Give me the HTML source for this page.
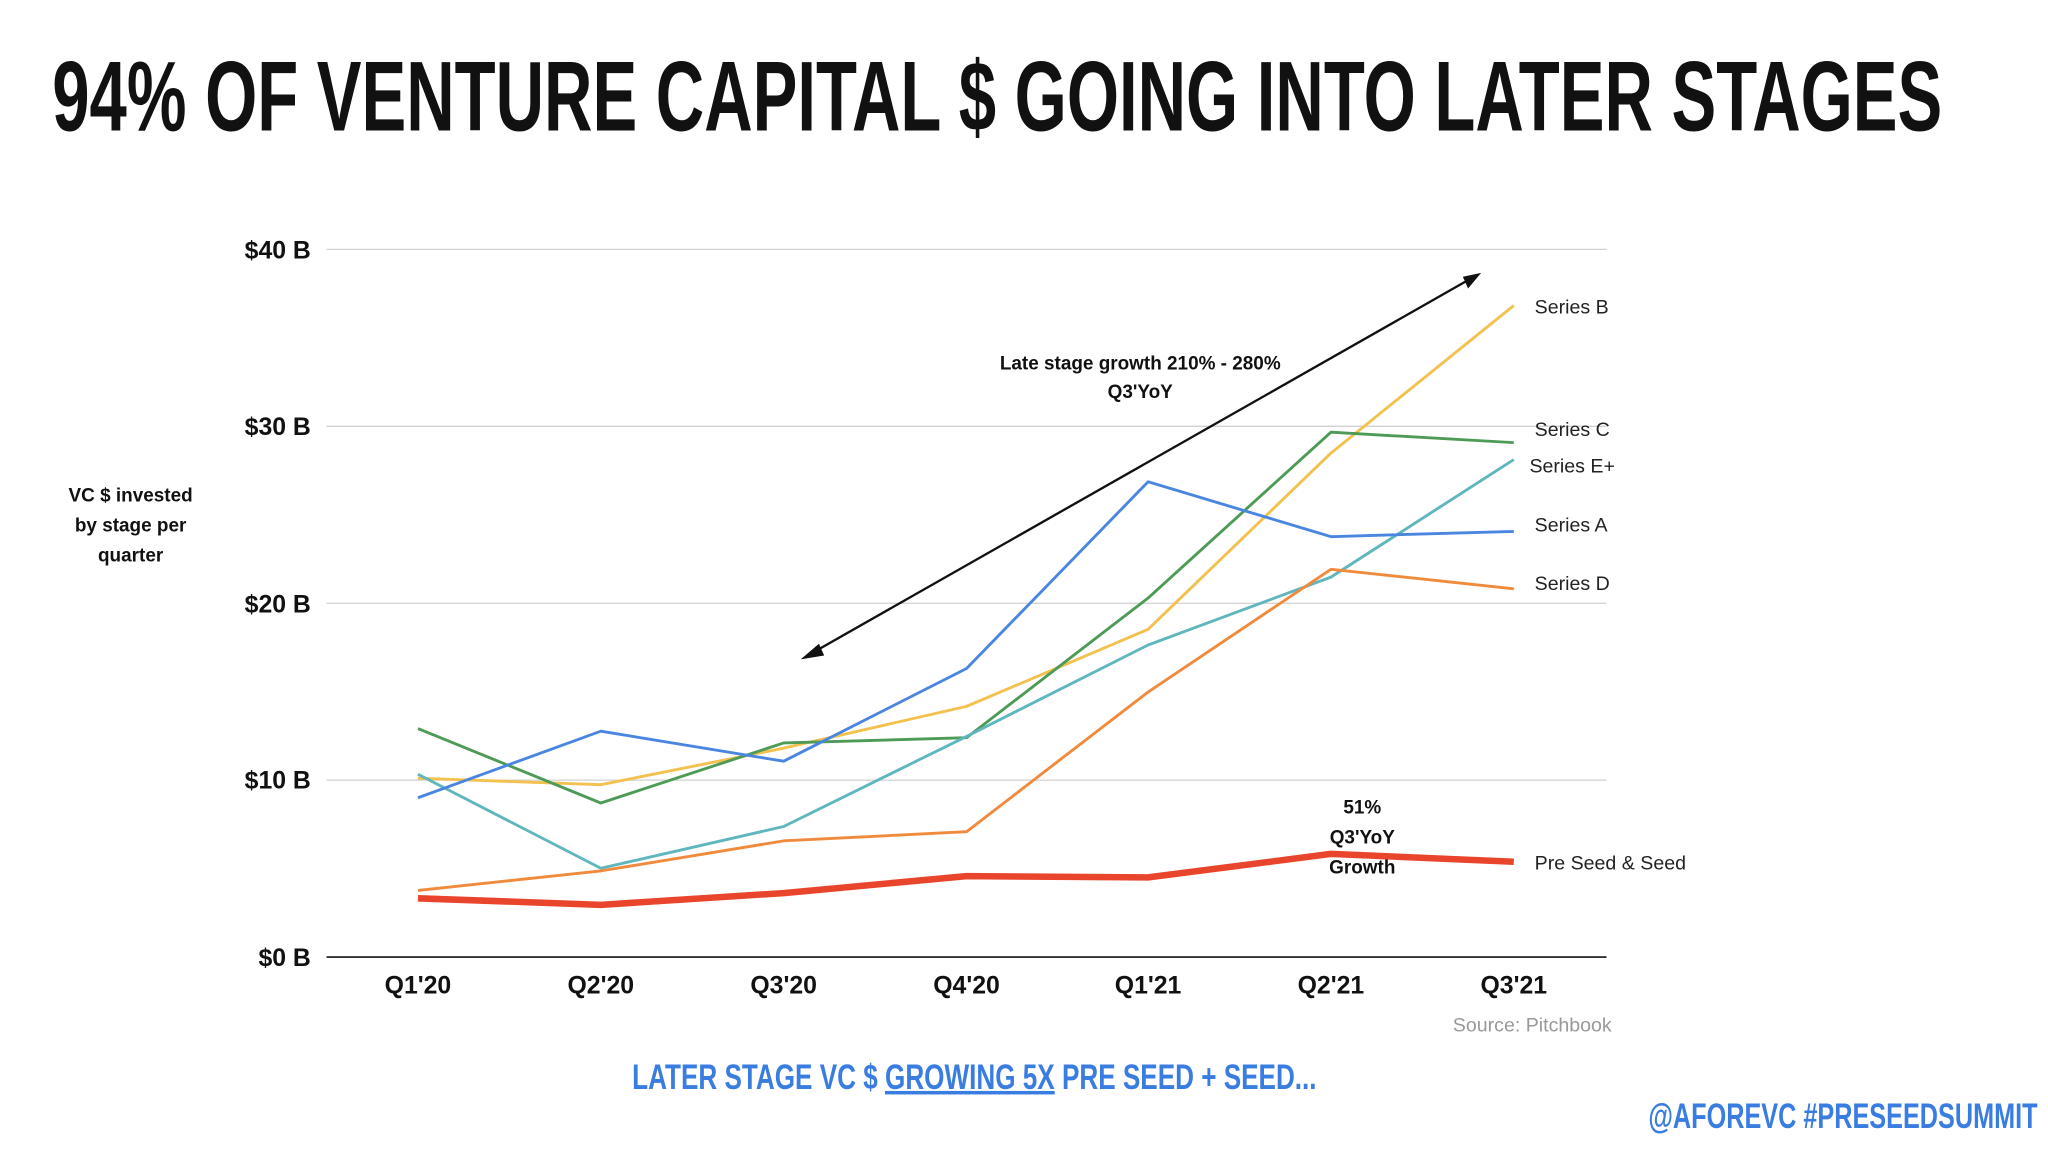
<!DOCTYPE html>
<html><head><meta charset="utf-8"><style>
html,body{margin:0;padding:0;background:#fff;}
svg{display:block;}
</style></head><body>
<svg width="2048" height="1149" viewBox="0 0 1568 880" preserveAspectRatio="none" xmlns="http://www.w3.org/2000/svg">
<rect width="1568" height="880" fill="#fff"/>
<text x="40" y="100" font-family="'Liberation Sans Narrow','Liberation Sans',sans-serif" font-weight="bold" font-size="76" fill="#111" textLength="1447" lengthAdjust="spacingAndGlyphs">94% OF VENTURE CAPITAL $ GOING INTO LATER STAGES</text>
<g stroke="#d0d0d0" stroke-width="1">
<line x1="250" y1="191" x2="1230" y2="191"/><line x1="250" y1="326.5" x2="1230" y2="326.5"/>
<line x1="250" y1="462" x2="1230" y2="462"/><line x1="250" y1="597.5" x2="1230" y2="597.5"/>
</g>
<line x1="250" y1="733" x2="1230" y2="733" stroke="#333" stroke-width="1.5"/>
<g font-family="'Liberation Sans',sans-serif" font-weight="bold" font-size="19" fill="#111" text-anchor="end">
<text x="238" y="198">$40 B</text><text x="238" y="333">$30 B</text><text x="238" y="469">$20 B</text><text x="238" y="604">$10 B</text><text x="238" y="740">$0 B</text>
</g>
<g font-family="'Liberation Sans',sans-serif" font-weight="bold" font-size="19" fill="#111" text-anchor="middle">
<text x="320" y="761">Q1'20</text><text x="460" y="761">Q2'20</text><text x="600" y="761">Q3'20</text><text x="740" y="761">Q4'20</text><text x="879" y="761">Q1'21</text><text x="1019" y="761">Q2'21</text><text x="1159" y="761">Q3'21</text>
</g>
<g font-family="'Liberation Sans',sans-serif" font-weight="bold" font-size="14.5" fill="#111" text-anchor="middle">
<text x="100" y="384">VC $ invested</text><text x="100" y="407">by stage per</text><text x="100" y="430">quarter</text>
<text x="873" y="283">Late stage growth 210% - 280%</text><text x="873" y="305">Q3'YoY</text>
<text x="1043" y="623">51%</text><text x="1043" y="646">Q3'YoY</text><text x="1043" y="669">Growth</text>
</g>
<g fill="none" stroke-width="2.2" stroke-linejoin="round">
<polyline stroke="#f2c14e" points="320,596 460,601 600,573 740,541 879,482 1019,347 1159,234"/>
<polyline stroke="#4e9a57" points="320,558 460,615 600,569 740,565 879,458 1019,331 1159,339"/>
<polyline stroke="#5fb6bd" points="320,593 460,665 600,633 740,564 879,494 1019,442 1159,352"/>
<polyline stroke="#4a86e0" points="320,611 460,560 600,583 740,512 879,369 1019,411 1159,407"/>
<polyline stroke="#f08a3c" points="320,682 460,667 600,644 740,637 879,530 1019,436 1159,451"/>
<polyline stroke="#e8452c" stroke-width="5" points="320,688 460,693 600,684 740,671 879,672 1019,654 1159,660"/>
</g>
<line x1="622" y1="500" x2="1125" y2="214" stroke="#111" stroke-width="1.8"/>
<polygon points="613,505 627,493 631,502" fill="#111"/>
<polygon points="1134,209 1120,212 1124,221" fill="#111"/>
<g font-family="'Liberation Sans',sans-serif" font-size="15" fill="#222">
<text x="1175" y="240">Series B</text><text x="1175" y="334">Series C</text><text x="1171" y="362">Series E+</text><text x="1175" y="407">Series A</text><text x="1175" y="452">Series D</text><text x="1175" y="666">Pre Seed &amp; Seed</text>
</g>
<text x="1234" y="790" text-anchor="end" font-family="'Liberation Sans',sans-serif" font-size="15" fill="#999">Source: Pitchbook</text>
<text x="484" y="834" font-family="'Liberation Sans Narrow','Liberation Sans',sans-serif" font-weight="bold" font-size="27" fill="#3a7de0" textLength="524" lengthAdjust="spacingAndGlyphs">LATER STAGE VC $ <tspan text-decoration="underline">GROWING 5X</tspan> PRE SEED + SEED...</text>
<text x="1262" y="864" font-family="'Liberation Sans Narrow','Liberation Sans',sans-serif" font-weight="bold" font-size="27" fill="#3a7de0" textLength="298" lengthAdjust="spacingAndGlyphs">@AFOREVC  #PRESEEDSUMMIT</text>
</svg>
</body></html>
